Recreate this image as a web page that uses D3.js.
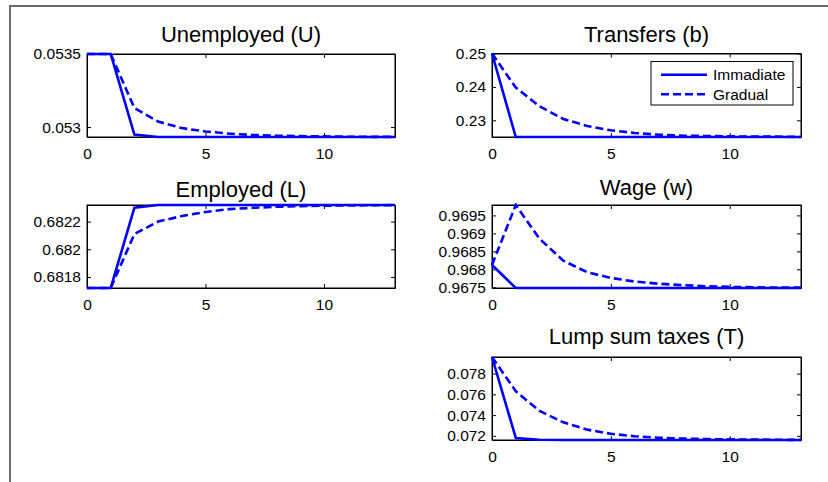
<!DOCTYPE html>
<html>
<head>
<meta charset="utf-8">
<script src="https://cdn.jsdelivr.net/npm/d3@7"></script>
<style>
  body { margin: 0; background: #fff; }
  svg { display: block; font-family: "Liberation Sans", Arial, sans-serif; }
</style>
</head>
<body>
<svg id="chart" width="828" height="482"></svg>
<script>
var periods = [0, 1, 2, 3, 4, 5, 6, 7, 8, 9, 10, 11, 12, 13];
var xTicks = [0, 5, 10];
var seriesNames = ["Immadiate", "Gradual"];

var uImmediate = [0.0535, 0.0535, 0.052949, 0.052932, 0.052932, 0.052932, 0.052932, 0.052932, 0.052932, 0.052932, 0.052932, 0.052932, 0.052932, 0.052932];
var uGradual = [0.0535, 0.0535, 0.05313, 0.053038, 0.052993, 0.05297, 0.052955, 0.052946, 0.052941, 0.052938, 0.052936, 0.052934, 0.052933, 0.052933];
var uTicks = [0.053, 0.0535];
var uTickLabels = ["0.053", "0.0535"];

var bImmediate = [0.25, 0.225, 0.225, 0.225, 0.225, 0.225, 0.225, 0.225, 0.225, 0.225, 0.225, 0.225, 0.225, 0.225];
var bGradual = [0.25, 0.2398, 0.2342, 0.2304, 0.2283, 0.2270, 0.2262, 0.2257, 0.2254, 0.2253, 0.2252, 0.2251, 0.2251, 0.2250];
var bTicks = [0.23, 0.24, 0.25];
var bTickLabels = ["0.23", "0.24", "0.25"];

var lImmediate = [0.68172, 0.68172, 0.68230, 0.68232, 0.68232, 0.68232, 0.68232, 0.68232, 0.68232, 0.68232, 0.68232, 0.68232, 0.68232, 0.68232];
var lGradual = [0.68172, 0.68172, 0.68211, 0.68220, 0.68224, 0.68227, 0.68229, 0.68230, 0.682307, 0.682312, 0.682315, 0.682317, 0.682318, 0.682319];
var lTicks = [0.6818, 0.682, 0.6822];
var lTickLabels = ["0.6818", "0.682", "0.6822"];

var wImmediate = [0.96812, 0.96748, 0.96748, 0.96748, 0.96748, 0.96748, 0.96748, 0.96748, 0.96748, 0.96748, 0.96748, 0.96748, 0.96748, 0.96748];
var wGradual = [0.96812, 0.96979, 0.96885, 0.96824, 0.96792, 0.96776, 0.96766, 0.96760, 0.96756, 0.96753, 0.96751, 0.96750, 0.96749, 0.96749];
var wTicks = [0.9675, 0.968, 0.9685, 0.969, 0.9695];
var wTickLabels = ["0.9675", "0.968", "0.9685", "0.969", "0.9695"];

var tImmediate = [0.0796, 0.0718, 0.07163, 0.0716, 0.0716, 0.0716, 0.0716, 0.0716, 0.0716, 0.0716, 0.0716, 0.0716, 0.0716, 0.0716];
var tGradual = [0.0796, 0.0763, 0.0744, 0.0733, 0.0726, 0.0722, 0.07196, 0.07182, 0.07174, 0.07169, 0.07166, 0.07164, 0.07162, 0.07161];
var tTicks = [0.072, 0.074, 0.076, 0.078];
var tTickLabels = ["0.072", "0.074", "0.076", "0.078"];

var panels = [
  { title: "Unemployed (U)", a: uImmediate, b: uGradual, ticks: uTicks, labels: uTickLabels, x0: 87, x1: 395, y0: 54, y1: 137, ty: 42 },
  { title: "Transfers (b)", a: bImmediate, b: bGradual, ticks: bTicks, labels: bTickLabels, x0: 492, x1: 801, y0: 53.5, y1: 137, ty: 42, legend: true },
  { title: "Employed (L)", a: lImmediate, b: lGradual, ticks: lTicks, labels: lTickLabels, x0: 87, x1: 395, y0: 205, y1: 288, ty: 196.5 },
  { title: "Wage (w)", a: wImmediate, b: wGradual, ticks: wTicks, labels: wTickLabels, x0: 492, x1: 801, y0: 205, y1: 288, ty: 195 },
  { title: "Lump sum taxes (T)", a: tImmediate, b: tGradual, ticks: tTicks, labels: tTickLabels, x0: 492, x1: 801, y0: 357, y1: 440, ty: 344 }
];

var svg = d3.select("#chart");

svg.append("path")
  .attr("d", "M10,482 V6 H828")
  .attr("fill", "none")
  .attr("stroke", "#6a6a6a")
  .attr("stroke-width", 2);

panels.forEach(function(p, i) {
  var x = d3.scaleLinear().domain([0, 13]).range([p.x0, p.x1]);
  var all = p.a.concat(p.b);
  var y = d3.scaleLinear().domain(d3.extent(all)).range([p.y1, p.y0]);
  var g = svg.append("g");

  g.append("text")
    .attr("x", (p.x0 + p.x1) / 2)
    .attr("y", p.ty)
    .attr("text-anchor", "middle")
    .attr("font-size", "22px")
    .attr("fill", "#000")
    .text(p.title);

  g.append("rect")
    .attr("x", p.x0).attr("y", p.y0)
    .attr("width", p.x1 - p.x0).attr("height", p.y1 - p.y0)
    .attr("fill", "#fff");

  var fmt = function(d) { return p.labels[p.ticks.indexOf(d)]; };

  g.append("g").attr("transform", "translate(" + p.x0 + ",0)")
    .call(d3.axisLeft(y).tickValues(p.ticks).tickFormat(fmt).tickSizeInner(-4).tickSizeOuter(0).tickPadding(6));
  g.append("g").attr("transform", "translate(" + p.x1 + ",0)")
    .call(d3.axisRight(y).tickValues(p.ticks).tickFormat("").tickSizeInner(-4).tickSizeOuter(0));
  g.append("g").attr("transform", "translate(0," + p.y1 + ")")
    .call(d3.axisBottom(x).tickValues(xTicks).tickFormat(d3.format("d")).tickSizeInner(-4).tickSizeOuter(0).tickPadding(11));
  g.append("g").attr("transform", "translate(0," + p.y0 + ")")
    .call(d3.axisTop(x).tickValues(xTicks).tickFormat("").tickSizeInner(-4).tickSizeOuter(0));

  g.selectAll(".tick text").attr("font-size", "15.5px").attr("fill", "#000").attr("font-family", "Liberation Sans, Arial, sans-serif");
  g.selectAll(".domain").attr("stroke", "#000");
  g.selectAll(".tick line").attr("stroke", "#000");

  g.append("rect")
    .attr("x", p.x0).attr("y", p.y0)
    .attr("width", p.x1 - p.x0).attr("height", p.y1 - p.y0)
    .attr("fill", "none")
    .attr("stroke", "#000")
    .attr("stroke-width", 1);

  var clipId = "clip" + i;
  svg.append("clipPath").attr("id", clipId)
    .append("rect")
    .attr("x", p.x0 - 2).attr("y", p.y0 - 2)
    .attr("width", p.x1 - p.x0 + 4).attr("height", p.y1 - p.y0 + 4);

  var line = d3.line()
    .x(function(d, j) { return x(periods[j]); })
    .y(function(d) { return y(d); });

  g.append("path")
    .datum(p.b)
    .attr("d", line)
    .attr("clip-path", "url(#" + clipId + ")")
    .attr("fill", "none")
    .attr("stroke", "#0000ff")
    .attr("stroke-width", 2.6)
    .attr("stroke-dasharray", "8,4");
  g.append("path")
    .datum(p.a)
    .attr("d", line)
    .attr("clip-path", "url(#" + clipId + ")")
    .attr("fill", "none")
    .attr("stroke", "#0000ff")
    .attr("stroke-width", 2.6);

  if (p.legend) {
    var lg = g.append("g");
    lg.append("rect")
      .attr("x", 651).attr("y", 61.5)
      .attr("width", 142).attr("height", 43.5)
      .attr("fill", "#fff")
      .attr("stroke", "#000");
    seriesNames.forEach(function(name, k) {
      var ly = 74.7 + k * 19.6;
      lg.append("line")
        .attr("x1", 661).attr("x2", 707)
        .attr("y1", ly).attr("y2", ly)
        .attr("stroke", "#0000ff")
        .attr("stroke-width", 2.6)
        .attr("stroke-dasharray", k === 1 ? "8,4" : null);
      lg.append("text")
        .attr("x", 713).attr("y", ly)
        .attr("dy", "0.36em")
        .attr("font-size", "15.5px")
        .text(name);
    });
  }
});
</script>
</body>
</html>
